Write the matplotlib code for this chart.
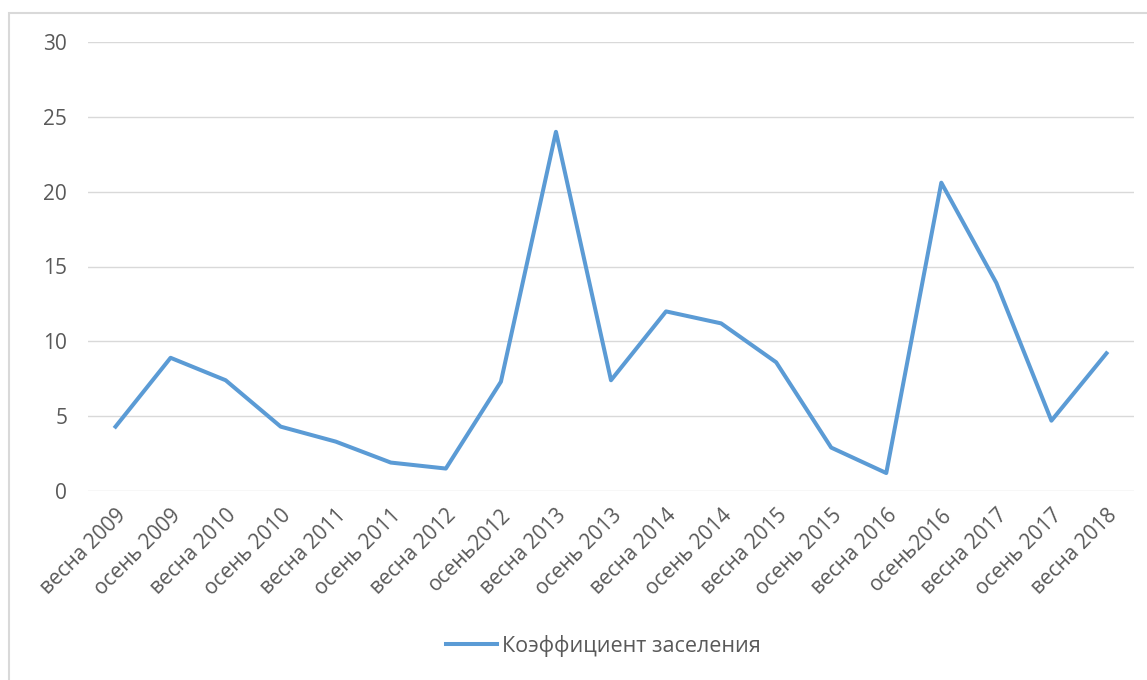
import matplotlib
matplotlib.use("Agg")
import matplotlib.pyplot as plt
from matplotlib.patches import Rectangle

plt.rcParams['font.family'] = ['Open Sans', 'DejaVu Sans']

# categories and values
labels = ['весна 2009', 'осень 2009', 'весна 2010', 'осень 2010', 'весна 2011',
          'осень 2011', 'весна 2012', 'осень2012', 'весна 2013', 'осень 2013',
          'весна 2014', 'осень 2014', 'весна 2015', 'осень 2015', 'весна 2016',
          'осень2016', 'весна 2017', 'осень 2017', 'весна 2018']
values = [4.3, 8.9, 7.4, 4.3, 3.3, 1.9, 1.5, 7.3, 24.0, 7.4,
          12.0, 11.2, 8.6, 2.9, 1.2, 20.6, 13.9, 4.7, 9.2]
yticks = [0, 5, 10, 15, 20, 25, 30]
series_name = 'Коэффициент заселения'

fig = plt.figure(figsize=(11.47, 6.8), dpi=100)
# outer chart border
fig.patches.append(Rectangle((9/1147, -0.05), 1.2, (680-13)/680 + 0.05,
                             transform=fig.transFigure, fill=False,
                             edgecolor='#d9d9d9', linewidth=1.5))

ax = fig.add_axes([88/1147, (680-491)/680, (1134-88)/1147, (491-42)/680])
x = list(range(len(labels)))
ax.plot(x, values, color='#5b9bd5', linewidth=2.9, solid_joinstyle='round',
        label=series_name)

ax.set_xlim(-0.5, len(labels)-0.5)
ax.set_ylim(0, 30)
ax.set_yticks(yticks)
ax.set_xticks(x)
ax.set_xticklabels(labels, rotation=45, ha='right', rotation_mode='anchor')
ax.tick_params(axis='both', length=0, colors='#595959', labelsize=15)
ax.tick_params(axis='y', pad=15)
ax.tick_params(axis='x', pad=10)
ax.grid(axis='y', color='#d9d9d9', linewidth=1)
ax.set_axisbelow(True)
for s in ax.spines.values():
    s.set_visible(False)

fig.legend(loc='center', bbox_to_anchor=(603/1147, (680-646)/680), frameon=False,
           fontsize=15.5, labelcolor='#595959', handlelength=2.4, handletextpad=0.2)

fig.savefig('out.png', dpi=100)
